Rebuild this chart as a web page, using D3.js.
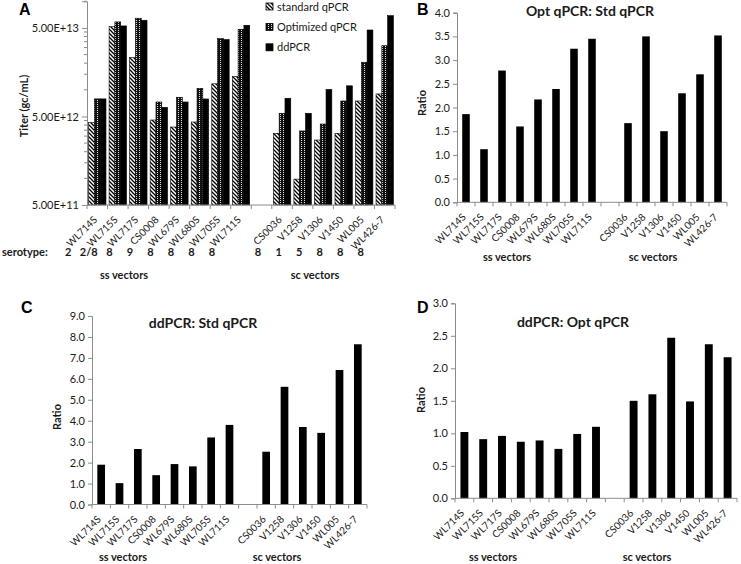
<!DOCTYPE html>
<html><head><meta charset="utf-8">
<script src="https://cdn.jsdelivr.net/npm/d3@7"></script>
<style>
body{margin:0;background:#fff;}
svg{display:block;font-family:Lato,"Open Sans",sans-serif;}
</style></head><body>
<svg id="chart" width="741" height="564"></svg>
<script>
// ---------------- data ----------------
const ssVectors = ["WL714S","WL715S","WL717S","CS0008","WL679S","WL680S","WL705S","WL711S"];
const scVectors = ["CS0036","V1258","V1306","V1450","WL005","WL426-7"];
const serotypeSS = ["2","2/8","8","9","8","8","8","8"];
const serotypeSC = ["8","1","5","8","8","8"];
const seriesNames = ["standard qPCR","Optimized qPCR","ddPCR"];
const stdTiter = [4.26e12,5.17e13,2.31e13,4.56e12,3.80e12,4.33e12,1.17e13,1.41e13,3.23e12,9.8e11,2.71e12,3.23e12,7.48e12,8.98e12];
const optTiter = [7.9e12,5.85e13,6.44e13,7.29e12,8.24e12,1.04e13,3.79e13,4.83e13,5.43e12,3.43e12,4.11e12,7.48e12,2.05e13,3.15e13];
const ddTiter  = [7.9e12,5.27e13,6.11e13,6.35e12,7.29e12,7.89e12,3.70e13,5.36e13,8.03e12,5.43e12,1.01e13,1.11e13,4.74e13,6.88e13];
const titerTicks = [5e11,5e12,5e13];
const optStdRatio = [1.86,1.12,2.78,1.60,2.17,2.39,3.24,3.45,1.67,3.50,1.50,2.30,2.70,3.52];
const ddStdRatio  = [1.90,1.02,2.65,1.40,1.93,1.82,3.20,3.80,2.52,5.62,3.70,3.42,6.42,7.65];
const ddOptRatio  = [1.02,0.91,0.96,0.87,0.89,0.76,0.99,1.10,1.50,1.60,2.47,1.49,2.37,2.17];

// ---------------- setup ----------------
const GAP = "__gap__";
const vectors = [...ssVectors, ...scVectors];
const slots = [...ssVectors, GAP, ...scVectors];
const svg = d3.select("#chart");
const AXIS = "#8c8c8c";
const TXT = "#1a1a1a";

const defs = svg.append("defs");
const hatch = defs.append("pattern").attr("id","hatch").attr("patternUnits","userSpaceOnUse")
  .attr("width",4).attr("height",4);
hatch.append("rect").attr("width",4).attr("height",4).attr("fill","#fff");
hatch.append("path").attr("d","M-1,-1L5,5M3,-1L5,1M-1,3L1,5").attr("stroke","#000").attr("stroke-width",1.3);
const dots = defs.append("pattern").attr("id","dots").attr("patternUnits","userSpaceOnUse")
  .attr("width",3).attr("height",2);
dots.append("rect").attr("width",3).attr("height",2).attr("fill","#111");
dots.append("rect").attr("x",1).attr("y",0).attr("width",1).attr("height",1).attr("fill","#ddd");
const fills = ["url(#hatch)","url(#dots)","#000"];

function panelLabel(x,y,t){
  svg.append("text").attr("x",x).attr("y",y).attr("font-family","'Liberation Sans',Arial,sans-serif")
    .attr("font-weight","bold").attr("font-size",16).attr("fill","#000").text(t);
}
function boldText(x,y,t,size,anchor){
  return svg.append("text").attr("x",x).attr("y",y).attr("font-weight","bold")
    .attr("font-size",size).attr("text-anchor",anchor||"middle").attr("fill",TXT).text(t);
}
function yTitle(x,y,t){
  svg.append("text").attr("transform",`translate(${x},${y}) rotate(-90)`)
    .attr("text-anchor","middle").attr("font-weight","bold").attr("font-size",11).attr("fill",TXT).text(t);
}
function xAxis(xs, yBase){
  const g = svg.append("g");
  g.append("line").attr("x1",xs.range()[0]).attr("x2",xs.range()[1]).attr("y1",yBase).attr("y2",yBase)
    .attr("stroke",AXIS);
  const bounds = slots.map(s=>xs(s)).concat([xs.range()[1]]);
  g.selectAll("line.tk").data(bounds).join("line").attr("class","tk")
    .attr("x1",d=>d).attr("x2",d=>d).attr("y1",yBase).attr("y2",yBase+4).attr("stroke",AXIS);
  g.selectAll("text").data(vectors).join("text")
    .attr("transform",d=>`translate(${xs(d)+xs.bandwidth()/2-2},${yBase+13}) rotate(-45)`)
    .attr("text-anchor","end").attr("dy","0.35em").attr("font-size",10).attr("fill",TXT).text(d=>d);
}
function styleYAxis(g){
  g.select(".domain").attr("stroke",AXIS);
  g.selectAll(".tick line").attr("stroke",AXIS);
  g.selectAll(".tick text").attr("fill",TXT).attr("font-size",11).attr("font-family","Lato,'Open Sans',sans-serif");
}

// ---------------- Panel A ----------------
(function(){
  const x0=87, x1=395, yB=205, yT=1.3;
  const xs = d3.scaleBand().domain(slots).range([x0,x1]).padding(0);
  const ys = d3.scaleLog().domain([5e11,1e14]).range([yB,yT]);
  const inner = d3.scaleBand().domain([0,1,2]).range([0,xs.bandwidth()]).paddingInner(0).paddingOuter(0.27);
  const series = [stdTiter,optTiter,ddTiter];
  series.forEach((vals,si)=>{
    svg.append("g").selectAll("rect").data(vectors).join("rect")
      .attr("x",(d)=>xs(d)+inner(si)).attr("width",inner.bandwidth())
      .attr("y",(d,i)=>ys(vals[i])).attr("height",(d,i)=>yB-ys(vals[i]))
      .attr("fill",fills[si]).attr("stroke","#000").attr("stroke-width",0.6);
  });
  // minor ticks
  const minor=[];
  titerTicks.forEach(t=>{for(let k=2;k<=9;k++){const v=t*k; if(v<=1e14) minor.push(v);}});
  svg.append("g").selectAll("line").data(minor).join("line")
    .attr("x1",x0-3).attr("x2",x0).attr("y1",d=>ys(d)).attr("y2",d=>ys(d)).attr("stroke",AXIS);
  const ga = svg.append("g").attr("transform",`translate(${x0},0)`)
    .call(d3.axisLeft(ys).tickValues(titerTicks).tickSizeOuter(0).tickSize(5)
      .tickFormat(d=>d.toExponential(2).toUpperCase()));
  styleYAxis(ga);
  xAxis(xs,yB);
  panelLabel(19,15,"A");
  yTitle(28,106,"Titer (gc/mL)");
  // legend
  const lg = svg.append("g");
  seriesNames.forEach((n,i)=>{
    lg.append("rect").attr("x",266).attr("y",3+i*20.4).attr("width",7).attr("height",7)
      .attr("fill",fills[i]).attr("stroke","#000").attr("stroke-width",0.8);
    lg.append("text").attr("x",277).attr("y",10.5+i*20.4).attr("font-size",11).attr("fill",TXT).text(n);
  });
  // serotype row
  boldText(2,256,"serotype:",11,"start");
  svg.append("g").selectAll("text").data(serotypeSS).join("text")
    .attr("x",(d,i)=>xs(ssVectors[i])+xs.bandwidth()/2-29).attr("y",256)
    .attr("text-anchor","middle").attr("font-weight","bold").attr("font-size",11).attr("fill",TXT).text(d=>d);
  svg.append("g").selectAll("text").data(serotypeSC).join("text")
    .attr("x",(d,i)=>xs(scVectors[i])+xs.bandwidth()/2-24).attr("y",256)
    .attr("text-anchor","middle").attr("font-weight","bold").attr("font-size",11).attr("fill",TXT).text(d=>d);
  boldText(124,279,"ss vectors",11);
  boldText(315,279,"sc vectors",11);
})();

// ---------------- Ratio panels ----------------
function ratioPanel(o){
  const xs = d3.scaleBand().domain(slots).range([o.x0,o.x1]).padding(0);
  const ys = d3.scaleLinear().domain([0,o.max]).range([o.yB,o.yT]);
  const bw = xs.bandwidth()*0.42;
  svg.append("g").selectAll("rect").data(vectors).join("rect")
    .attr("x",d=>xs(d)+xs.bandwidth()/2-bw/2).attr("width",bw)
    .attr("y",(d,i)=>ys(o.values[i])).attr("height",(d,i)=>o.yB-ys(o.values[i]))
    .attr("fill","#000");
  const g = svg.append("g").attr("transform",`translate(${o.x0},0)`)
    .call(d3.axisLeft(ys).tickValues(d3.range(0,o.max+1e-9,o.step)).tickSizeOuter(0).tickSize(4)
      .tickFormat(d3.format(".1f")));
  styleYAxis(g);
  xAxis(xs,o.yB);
  panelLabel(o.lx,o.ly,o.label);
  boldText(o.tx,o.ty,o.title,14);
  yTitle(o.rx,o.ry,"Ratio");
  boldText(o.ssx,o.vy,"ss vectors",11);
  boldText(o.scx,o.vy,"sc vectors",11);
}
ratioPanel({values:optStdRatio,max:4,step:0.5,x0:457,x1:727,yB:202.3,yT:12.7,
  label:"B",lx:417,ly:15,title:"Opt qPCR: Std qPCR",tx:590,ty:16,rx:426,ry:103,
  ssx:507,scx:653,vy:261});
ratioPanel({values:ddStdRatio,max:9,step:1,x0:92,x1:367,yB:504.5,yT:316,
  label:"C",lx:21,ly:313,title:"ddPCR: Std qPCR",tx:203,ty:328,rx:61,ry:417,
  ssx:123,scx:277,vy:561});
ratioPanel({values:ddOptRatio,max:3,step:0.5,x0:455,x1:737,yB:498.3,yT:303.3,
  label:"D",lx:417,ly:313,title:"ddPCR: Opt qPCR",tx:573,ty:327,rx:425,ry:400,
  ssx:493,scx:647,vy:561});
</script>
</body></html>
